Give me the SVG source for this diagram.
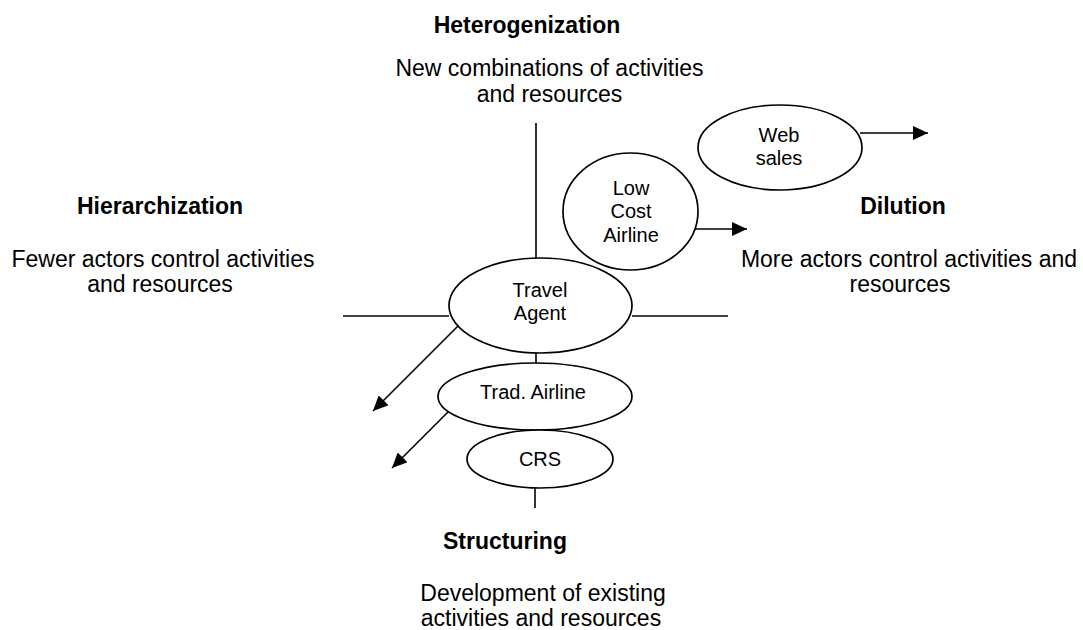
<svg xmlns="http://www.w3.org/2000/svg" width="1083" height="630" viewBox="0 0 1083 630">
<style>
  .t { font-family: "Liberation Sans", Arial, sans-serif; font-size: 23px; fill: #000; text-anchor: middle; }
  .b { font-weight: bold; }
  .n { font-family: "Liberation Sans", Arial, sans-serif; font-size: 20px; fill: #000; text-anchor: middle; }
  .e { fill: #fff; stroke: #000; stroke-width: 1.7; }
  .c { stroke: #000; stroke-width: 1.6; fill: none; }
</style>
<defs>
  <marker id="arr" markerUnits="userSpaceOnUse" markerWidth="16" markerHeight="14" refX="15" refY="7" orient="auto">
    <path d="M0,0 L15,7 L0,14 Z" fill="#000"/>
  </marker>
</defs>
<rect width="1083" height="630" fill="#fff"/>

<g id="connectors">
  <line class="c" x1="536" y1="123" x2="536" y2="258"/>
  <line class="c" x1="343" y1="316" x2="449" y2="316"/>
  <line class="c" x1="632" y1="316" x2="728" y2="316"/>
  <line class="c" x1="536" y1="353" x2="536" y2="363"/>
  <line class="c" x1="535" y1="488" x2="535" y2="508"/>
  <line class="c" x1="458" y1="326" x2="373" y2="411" marker-end="url(#arr)"/>
  <line class="c" x1="449" y1="411" x2="392" y2="468" marker-end="url(#arr)"/>
  <line class="c" x1="688" y1="229" x2="747" y2="229" marker-end="url(#arr)"/>
  <line class="c" x1="860" y1="133" x2="928" y2="133" marker-end="url(#arr)"/>
</g>

<g id="travel-agent">
  <ellipse class="e" cx="540.5" cy="305.5" rx="91.5" ry="47.5"/>
  <text class="n" x="540" y="297">Travel</text>
  <text class="n" x="540" y="320">Agent</text>
</g>
<g id="low-cost-airline">
  <ellipse class="e" cx="630.5" cy="211.5" rx="67.5" ry="58.5"/>
  <text class="n" x="631" y="195">Low</text>
  <text class="n" x="631" y="218">Cost</text>
  <text class="n" x="631" y="242">Airline</text>
</g>
<g id="web-sales">
  <ellipse class="e" cx="780" cy="147.5" rx="82" ry="42.5"/>
  <text class="n" x="779" y="142">Web</text>
  <text class="n" x="779" y="165">sales</text>
</g>
<g id="trad-airline">
  <ellipse class="e" cx="535" cy="396.5" rx="97" ry="33.5"/>
  <text class="n" x="533" y="399">Trad. Airline</text>
</g>
<g id="crs">
  <ellipse class="e" cx="540" cy="459" rx="73" ry="29"/>
  <text class="n" x="540" y="466">CRS</text>
</g>

<g id="heterogenization">
  <text class="t b" x="527" y="33">Heterogenization</text>
  <text class="t" x="549.5" y="76">New combinations of activities</text>
  <text class="t" x="549.5" y="102">and resources</text>
</g>
<g id="hierarchization">
  <text class="t b" x="160" y="214">Hierarchization</text>
  <text class="t" x="163" y="267">Fewer actors control activities</text>
  <text class="t" x="160" y="292">and resources</text>
</g>
<g id="dilution">
  <text class="t b" x="903" y="214">Dilution</text>
  <text class="t" x="909" y="267">More actors control activities and</text>
  <text class="t" x="900" y="292">resources</text>
</g>
<g id="structuring">
  <text class="t b" x="505" y="549">Structuring</text>
  <text class="t" x="543" y="601">Development of existing</text>
  <text class="t" x="541" y="626">activities and resources</text>
</g>
</svg>
